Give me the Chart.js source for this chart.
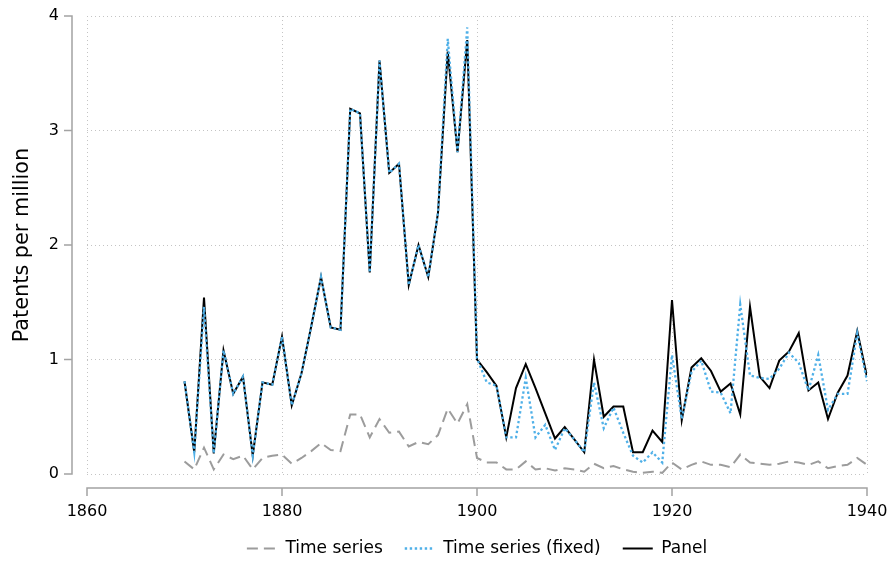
<!DOCTYPE html>
<html>
<head>
<meta charset="utf-8">
<script src="https://cdn.jsdelivr.net/npm/chart.js@4/dist/chart.umd.min.js"></script>
<style>
  html, body { margin: 0; padding: 0; background: #ffffff; }
  #wrap { width: 891px; height: 561px; }
</style>
</head>
<body>
<div id="wrap"><canvas id="chart" width="891" height="561"></canvas></div>
<script>
// Years covered by the three estimates
const years = [
  1870, 1871, 1872, 1873, 1874, 1875, 1876, 1877, 1878, 1879,
  1880, 1881, 1882, 1883, 1884, 1885, 1886, 1887, 1888, 1889,
  1890, 1891, 1892, 1893, 1894, 1895, 1896, 1897, 1898, 1899,
  1900, 1901, 1902, 1903, 1904, 1905, 1906, 1907, 1908, 1909,
  1910, 1911, 1912, 1913, 1914, 1915, 1916, 1917, 1918, 1919,
  1920, 1921, 1922, 1923, 1924, 1925, 1926, 1927, 1928, 1929,
  1930, 1931, 1932, 1933, 1934, 1935, 1936, 1937, 1938, 1939,
  1940
];

// Patents per million, time-series estimate
const timeSeries = [
  0.11, 0.04, 0.23, 0.04, 0.17, 0.13, 0.16, 0.04, 0.14, 0.16,
  0.17, 0.09, 0.14, 0.20, 0.27, 0.21, 0.20, 0.52, 0.52, 0.32,
  0.48, 0.36, 0.37, 0.24, 0.28, 0.26, 0.34, 0.57, 0.44, 0.61,
  0.14, 0.10, 0.10, 0.04, 0.04, 0.11, 0.04, 0.05, 0.03, 0.05,
  0.04, 0.02, 0.09, 0.05, 0.07, 0.04, 0.02, 0.01, 0.02, 0.01,
  0.10, 0.04, 0.08, 0.11, 0.08, 0.08, 0.06, 0.17, 0.10, 0.09,
  0.08, 0.09, 0.11, 0.10, 0.08, 0.11, 0.05, 0.07, 0.08, 0.14,
  0.08
];

// Patents per million, time-series estimate with fixed population
const timeSeriesFixed = [
  0.81, 0.19, 1.46, 0.18, 1.08, 0.70, 0.85, 0.16, 0.80, 0.78,
  1.20, 0.60, 0.88, 1.29, 1.72, 1.28, 1.26, 3.19, 3.15, 1.76,
  3.61, 2.63, 2.71, 1.65, 2.00, 1.72, 2.28, 3.80, 2.81, 3.90,
  1.01, 0.80, 0.77, 0.32, 0.32, 0.84, 0.32, 0.43, 0.21, 0.40,
  0.30, 0.19, 0.80, 0.40, 0.58, 0.36, 0.16, 0.10, 0.19, 0.10,
  1.04, 0.48, 0.89, 0.99, 0.72, 0.71, 0.53, 1.48, 0.86, 0.84,
  0.83, 0.92, 1.06, 0.97, 0.73, 1.04, 0.56, 0.70, 0.70, 1.23,
  0.81
];

// Patents per million, panel estimate
const panel = [
  0.81, 0.19, 1.54, 0.18, 1.08, 0.70, 0.85, 0.16, 0.80, 0.78,
  1.20, 0.60, 0.88, 1.29, 1.72, 1.28, 1.26, 3.19, 3.15, 1.76,
  3.61, 2.63, 2.71, 1.65, 2.00, 1.72, 2.28, 3.69, 2.81, 3.79,
  1.00, 0.89, 0.77, 0.32, 0.75, 0.96, 0.75, 0.53, 0.31, 0.41,
  0.30, 0.19, 1.00, 0.50, 0.59, 0.59, 0.19, 0.19, 0.38, 0.28,
  1.52, 0.47, 0.93, 1.01, 0.90, 0.72, 0.79, 0.52, 1.46, 0.85,
  0.75, 0.99, 1.07, 1.23, 0.73, 0.80, 0.48, 0.71, 0.86, 1.25,
  0.85
];

// Axis ticks
const xTicks = [1860, 1880, 1900, 1920, 1940];
const yTicks = [0, 1, 2, 3, 4];

const toPoints = vals => years.map((yr, i) => ({ x: yr, y: vals[i] }));

const FONT = "'DejaVu Sans', 'Liberation Sans', sans-serif";

// Axis lines set apart from the plot region, with outward tick marks
const detachedAxes = {
  id: 'detachedAxes',
  afterDraw(chart, args, opts) {
    const { ctx, chartArea, scales: { x, y } } = chart;
    ctx.save();
    ctx.strokeStyle = opts.color;
    ctx.lineWidth = opts.width;
    ctx.lineCap = 'butt';
    ctx.beginPath();
    const ax = chartArea.left - opts.gapY;
    ctx.moveTo(ax, y.getPixelForValue(y.max));
    ctx.lineTo(ax, y.getPixelForValue(y.min));
    y.ticks.forEach(t => {
      const py = y.getPixelForValue(t.value);
      ctx.moveTo(ax + opts.width / 2, py);
      ctx.lineTo(ax - opts.tick, py);
    });
    const ay = chartArea.bottom + opts.gapX;
    ctx.moveTo(x.getPixelForValue(x.min), ay);
    ctx.lineTo(x.getPixelForValue(x.max), ay);
    x.ticks.forEach(t => {
      const px = x.getPixelForValue(t.value);
      ctx.moveTo(px, ay - opts.width / 2);
      ctx.lineTo(px, ay + opts.tick);
    });
    ctx.stroke();
    ctx.restore();
  }
};

// Legend entries drawn with each series' own stroke pattern
function legendLabels(chart) {
  const items = Chart.defaults.plugins.legend.labels.generateLabels(chart);
  items.forEach(it => {
    const ds = chart.data.datasets[it.datasetIndex];
    it.lineDash = ds.borderDash || [];
    it.lineWidth = ds.borderWidth;
    it.strokeStyle = ds.borderColor;
    it.fillStyle = ds.borderColor;
  });
  return items;
}

new Chart(document.getElementById('chart'), {
  type: 'line',
  data: {
    datasets: [
      {
        label: 'Time series',
        data: toPoints(timeSeries),
        borderColor: '#9c9c9c',
        backgroundColor: '#9c9c9c',
        borderWidth: 2,
        borderDash: [11, 6],
        pointRadius: 0,
        tension: 0
      },
      {
        label: 'Time series (fixed)',
        data: toPoints(timeSeriesFixed),
        borderColor: '#4fb0e8',
        backgroundColor: '#4fb0e8',
        borderWidth: 2.3,
        borderDash: [2.4, 2.6],
        pointRadius: 0,
        tension: 0
      },
      {
        label: 'Panel',
        data: toPoints(panel),
        borderColor: '#000000',
        backgroundColor: '#000000',
        borderWidth: 2,
        pointRadius: 0,
        tension: 0
      }
    ]
  },
  options: {
    responsive: false,
    animation: false,
    layout: { padding: { top: 16, right: 24, bottom: -6, left: 0 } },
    scales: {
      x: {
        type: 'linear',
        min: 1860,
        max: 1940,
        afterBuildTicks: s => { s.ticks = xTicks.map(v => ({ value: v })); },
        afterFit: s => {
          s.height = 44;
          s.paddingLeft = 0;
          s.paddingRight = 0;
        },
        ticks: {
          color: '#000000',
          padding: 28,
          maxRotation: 0,
          font: { family: FONT, size: 16 },
          callback: v => String(v)
        },
        grid: { color: '#c4c4c4', lineWidth: 1, drawTicks: false },
        border: { display: false, dash: [1, 3] }
      },
      y: {
        min: 0,
        max: 4,
        afterBuildTicks: s => { s.ticks = yTicks.map(v => ({ value: v })); },
        afterFit: s => {
          s.width = 87;
          s.paddingTop = 0;
          s.paddingBottom = 0;
        },
        ticks: {
          color: '#000000',
          padding: 28,
          font: { family: FONT, size: 16 },
          callback: v => String(v)
        },
        grid: { color: '#c4c4c4', lineWidth: 1, drawTicks: false },
        border: { display: false, dash: [1, 3] },
        title: {
          display: true,
          text: 'Patents per million',
          color: '#000000',
          font: { family: FONT, size: 20.8 },
          padding: { top: 10, bottom: 0 }
        }
      }
    },
    plugins: {
      legend: {
        position: 'bottom',
        fullSize: false,
        labels: {
          usePointStyle: true,
          pointStyle: 'line',
          pointStyleWidth: 30,
          color: '#000000',
          padding: 22,
          font: { family: FONT, size: 17 },
          generateLabels: legendLabels
        }
      },
      tooltip: { enabled: false },
      detachedAxes: { color: '#a3a3a3', width: 1.5, gapY: 15, gapX: 14, tick: 8 }
    }
  },
  plugins: [detachedAxes]
});
</script>
</body>
</html>
